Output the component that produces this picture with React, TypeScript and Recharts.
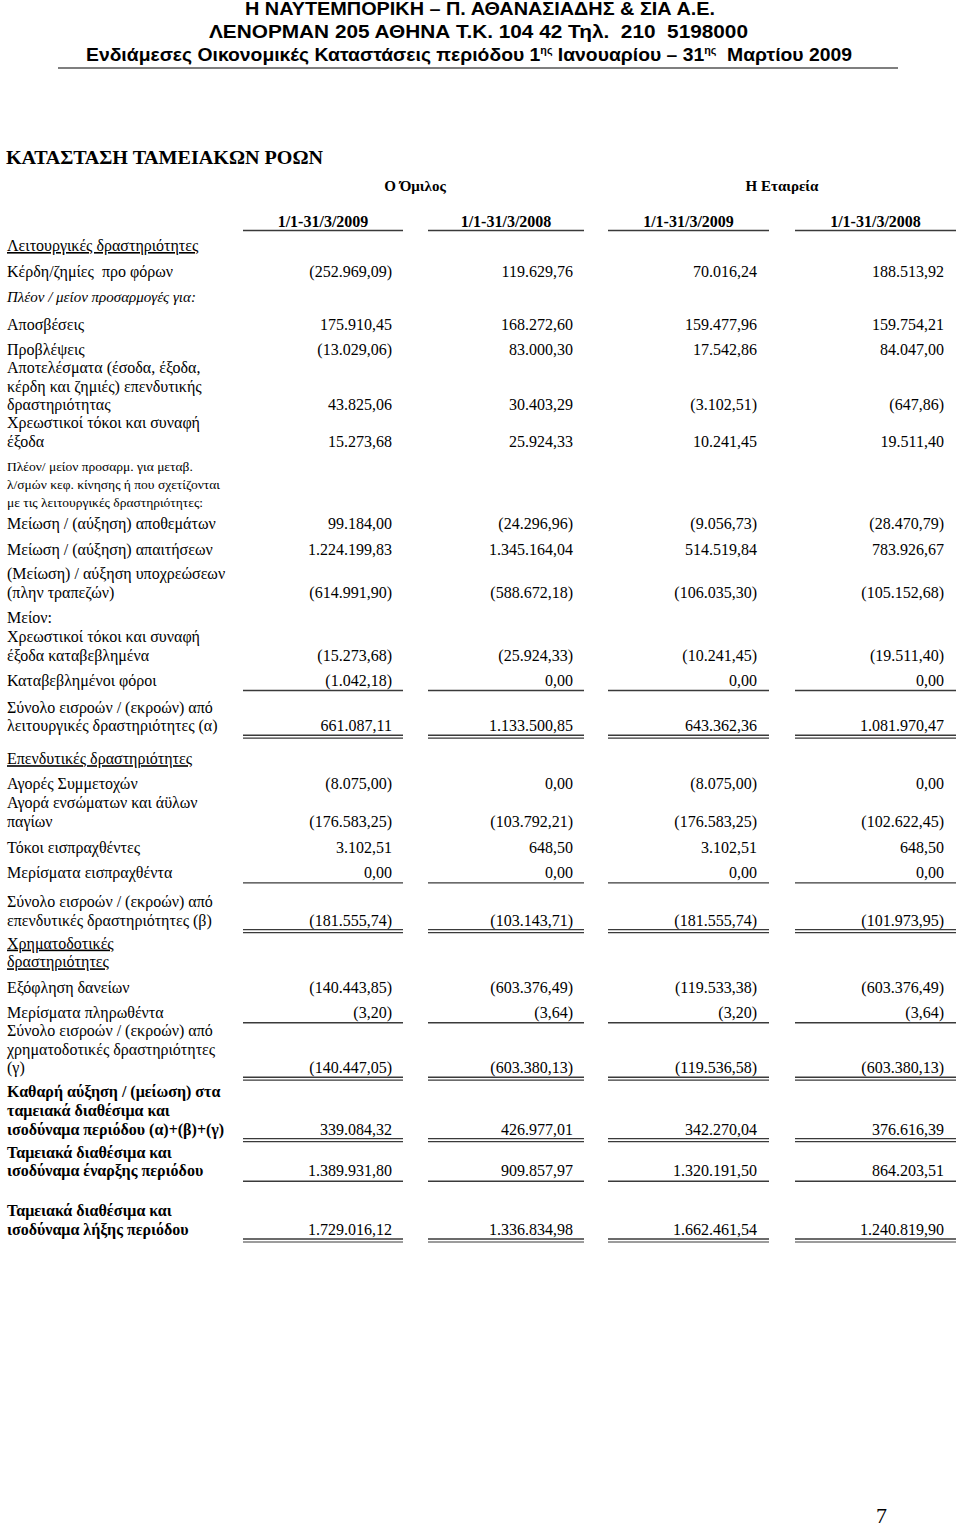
import React from "react";
import { ScatterChart, Scatter, XAxis, YAxis, Customized } from "recharts";

const PAGE_W = 960;
const PAGE_H = 1530;

const letterhead = [
	"Η ΝΑΥΤΕΜΠΟΡΙΚΗ – Π. ΑΘΑΝΑΣΙΑΔΗΣ & ΣΙΑ Α.Ε.",
	"ΛΕΝΟΡΜΑΝ 205 ΑΘΗΝΑ Τ.Κ. 104 42 Τηλ.  210  5198000",
];
// text pieces, the odd ones are superscripts
const periodLine = [
	"Ενδιάμεσες Οικονομικές Καταστάσεις περιόδου 1",
	"ης",
	" Ιανουαρίου – 31",
	"ης",
	"  Μαρτίου 2009",
];
const statementTitle = "ΚΑΤΑΣΤΑΣΗ ΤΑΜΕΙΑΚΩΝ ΡΟΩΝ";
const groupTitles = ["Ο Όμιλος", "Η Εταιρεία"];
const periodTitles = ["1/1-31/3/2009", "1/1-31/3/2008", "1/1-31/3/2009", "1/1-31/3/2008"];
const pageNumber = "7";

const rowLabels: string[][] = [
	["Λειτουργικές δραστηριότητες"],
	["Κέρδη/ζημίες  προ φόρων"],
	["Πλέον / μείον προσαρμογές για:"],
	["Αποσβέσεις"],
	["Προβλέψεις"],
	["Αποτελέσματα (έσοδα, έξοδα,", "κέρδη και ζημιές) επενδυτικής", "δραστηριότητας"],
	["Χρεωστικοί τόκοι και συναφή", "έξοδα"],
	["Πλέον/ μείον προσαρμ. για μεταβ.", "λ/σμών κεφ. κίνησης ή που σχετίζονται", "με τις λειτουργικές δραστηριότητες:"],
	["Μείωση / (αύξηση) αποθεμάτων"],
	["Μείωση / (αύξηση) απαιτήσεων"],
	["(Μείωση) / αύξηση υποχρεώσεων", "(πλην τραπεζών)"],
	["Μείον:"],
	["Χρεωστικοί τόκοι και συναφή", "έξοδα καταβεβλημένα"],
	["Καταβεβλημένοι φόροι"],
	["Σύνολο εισροών / (εκροών) από", "λειτουργικές δραστηριότητες (α)"],
	["Επενδυτικές δραστηριότητες"],
	["Αγορές Συμμετοχών"],
	["Αγορά ενσώματων και άϋλων", "παγίων"],
	["Τόκοι εισπραχθέντες"],
	["Μερίσματα εισπραχθέντα"],
	["Σύνολο εισροών / (εκροών) από", "επενδυτικές δραστηριότητες (β)"],
	["Χρηματοδοτικές", "δραστηριότητες"],
	["Εξόφληση δανείων"],
	["Μερίσματα πληρωθέντα"],
	["Σύνολο εισροών / (εκροών) από", "χρηματοδοτικές δραστηριότητες", "(γ)"],
	["Καθαρή αύξηση / (μείωση) στα", "ταμειακά διαθέσιμα και", "ισοδύναμα περιόδου (α)+(β)+(γ)"],
	["Ταμειακά διαθέσιμα και", "ισοδύναμα έναρξης περιόδου"],
	["Ταμειακά διαθέσιμα και", "ισοδύναμα λήξης περιόδου"],
];

type V = number | null;

const group2009: V[] = [
	null, -252969.09, null, 175910.45, -13029.06, 43825.06, 15273.68, null,
	99184.0, 1224199.83, -614991.9, null, -15273.68, -1042.18, 661087.11,
	null, -8075.0, -176583.25, 3102.51, 0, -181555.74,
	null, -140443.85, -3.2, -140447.05, 339084.32, 1389931.8, 1729016.12,
];
const group2008: V[] = [
	null, 119629.76, null, 168272.6, 83000.3, 30403.29, 25924.33, null,
	-24296.96, 1345164.04, -588672.18, null, -25924.33, 0, 1133500.85,
	null, 0, -103792.21, 648.5, 0, -103143.71,
	null, -603376.49, -3.64, -603380.13, 426977.01, 909857.97, 1336834.98,
];
const company2009: V[] = [
	null, 70016.24, null, 159477.96, 17542.86, -3102.51, 10241.45, null,
	-9056.73, 514519.84, -106035.3, null, -10241.45, 0, 643362.36,
	null, -8075.0, -176583.25, 3102.51, 0, -181555.74,
	null, -119533.38, -3.2, -119536.58, 342270.04, 1320191.5, 1662461.54,
];
const company2008: V[] = [
	null, 188513.92, null, 159754.21, 84047.0, -647.86, 19511.4, null,
	-28470.79, 783926.67, -105152.68, null, -19511.4, 0, 1081970.47,
	null, 0, -102622.45, 648.5, 0, -101973.95,
	null, -603376.49, -3.64, -603380.13, 376616.39, 864203.51, 1240819.9,
];
const columns = [group2009, group2008, company2009, company2008];

// ---- layout and styling (kept apart from the figures) ----
type Kind = "head" | "italic" | "small" | "plain" | "bold";
const rowKind: Kind[] = [
	"head", "plain", "italic", "plain", "plain", "plain", "plain", "small",
	"plain", "plain", "plain", "plain", "plain", "plain", "plain",
	"head", "plain", "plain", "plain", "plain", "plain",
	"head", "plain", "plain", "plain", "bold", "bold", "bold",
];
// 0 none, 1 single rule under the figures, 2 double rule
const rowRule = [
	0, 0, 0, 0, 0, 0, 0, 0, 0, 0, 0, 0, 0, 1, 2,
	0, 0, 0, 0, 1, 2, 0, 0, 1, 2, 2, 1, 2,
];
const rowGap = [
	0, 26, 25, 28, 25, 18, 18, 24, 22, 26, 24, 25, 19, 25, 27,
	33, 25, 19, 26, 25, 29, 23, 25.5, 25, 18, 24, 23, 40,
];
const FIRST_ROW = 246;
const LINE = 18.7;
const SMALL_LINE = 18;

const colSpan: [number, number][] = [
	[243, 403],
	[428, 584],
	[608, 769],
	[795, 956],
];
const colRight = [392, 573, 757, 944];

const SERIF = "'Liberation Serif', 'Times New Roman', serif";
const NARROW = "'Liberation Sans Narrow', 'Liberation Sans', Arial, sans-serif";
const RULE = "#3a3a3a";

function fmt(v: number): string {
	const abs = Math.abs(v).toFixed(2);
	const [int, dec] = abs.split(".");
	const body = `${int.replace(/\B(?=(\d{3})+(?!\d))/g, ".")},${dec}`;
	return v < 0 ? `(${body})` : body;
}

const tableData = (() => {
	let y = FIRST_ROW;
	return rowLabels.map((lines, i) => {
		if (i > 0) y += rowGap[i];
		const first = y;
		const step = rowKind[i] === "small" ? SMALL_LINE : LINE;
		y = first + (lines.length - 1) * step;
		return { x: 0, y: first, row: i };
	});
})();

function RowShape(props: any) {
	const { cy, payload } = props;
	if (cy == null || !payload) return null;
	const i: number = payload.row;
	const kind = rowKind[i];
	const lines = rowLabels[i];
	const step = kind === "small" ? SMALL_LINE : LINE;
	const last = cy + (lines.length - 1) * step;
	const size = kind === "small" ? 13.5 : kind === "italic" ? 15 : 16;
	return (
		<g>
			{lines.map((t, k) => (
				<text
					key={k}
					x={7}
					y={cy + k * step + 5}
					fontFamily={SERIF}
					fontSize={size}
					fontStyle={kind === "italic" ? "italic" : "normal"}
					fontWeight={kind === "bold" ? "bold" : "normal"}
					textDecoration={kind === "head" ? "underline" : undefined}
					fill="#000"
					style={{ whiteSpace: "pre" }}
				>
					{t}
				</text>
			))}
			{columns.map((col, j) =>
				col[i] == null ? null : (
					<text
						key={`v${j}`}
						x={colRight[j]}
						y={last + 5}
						textAnchor="end"
						fontFamily={SERIF}
						fontSize={16}
						fill="#000"
					>
						{fmt(col[i] as number)}
					</text>
				),
			)}
			{rowRule[i] > 0 &&
				colSpan.map(([a, b], j) =>
					rowRule[i] === 1 ? (
						<line key={`r${j}`} x1={a} x2={b} y1={last + 10} y2={last + 10} stroke={RULE} strokeWidth={1.4} />
					) : (
						<g key={`r${j}`}>
							<line x1={a} x2={b} y1={last + 9} y2={last + 9} stroke={RULE} strokeWidth={1.4} />
							<line x1={a} x2={b} y1={last + 12} y2={last + 12} stroke={RULE} strokeWidth={1.2} />
						</g>
					),
				)}
		</g>
	);
}

function PageHeader() {
	return (
		<g>
			<text x={245} y={15} fontFamily={NARROW} fontWeight="bold" fontSize={18} textLength={470} lengthAdjust="spacingAndGlyphs" style={{ whiteSpace: "pre" }}>
				{letterhead[0]}
			</text>
			<text x={209} y={38} fontFamily={NARROW} fontWeight="bold" fontSize={18} textLength={539} lengthAdjust="spacingAndGlyphs" style={{ whiteSpace: "pre" }}>
				{letterhead[1]}
			</text>
			<text x={86} y={61} fontFamily={NARROW} fontWeight="bold" fontSize={18} textLength={766} lengthAdjust="spacingAndGlyphs" style={{ whiteSpace: "pre" }}>
				{periodLine.map((p, k) =>
					k % 2 === 1 ? (
						<tspan key={k} fontSize={10} dy={-7}>
							{p}
						</tspan>
					) : (
						<tspan key={k} dy={k === 0 ? 0 : 7}>
							{p}
						</tspan>
					),
				)}
			</text>
			<line x1={58} x2={898} y1={68} y2={68} stroke="#555" strokeWidth={1.5} />
			<text x={6} y={164} fontFamily={SERIF} fontWeight="bold" fontSize={19} textLength={317} lengthAdjust="spacingAndGlyphs">
				{statementTitle}
			</text>
			<text x={415} y={191} textAnchor="middle" fontFamily={SERIF} fontWeight="bold" fontSize={15}>
				{groupTitles[0]}
			</text>
			<text x={782} y={191} textAnchor="middle" fontFamily={SERIF} fontWeight="bold" fontSize={15}>
				{groupTitles[1]}
			</text>
			{periodTitles.map((t, j) => (
				<g key={j}>
					<text x={(colSpan[j][0] + colSpan[j][1]) / 2} y={227} textAnchor="middle" fontFamily={SERIF} fontWeight="bold" fontSize={16}>
						{t}
					</text>
					<line x1={colSpan[j][0]} x2={colSpan[j][1]} y1={230.5} y2={230.5} stroke={RULE} strokeWidth={1.5} />
				</g>
			))}
			<text x={876} y={1523} fontFamily={SERIF} fontSize={22}>
				{pageNumber}
			</text>
		</g>
	);
}

export default function App() {
	return (
		<div style={{ position: "absolute", left: 0, top: 0, width: PAGE_W, height: PAGE_H, background: "#fff" }}>
			<ScatterChart width={PAGE_W} height={PAGE_H} margin={{ top: 0, right: 0, bottom: 0, left: 0 }}>
				<XAxis type="number" dataKey="x" domain={[0, PAGE_W]} hide />
				<YAxis type="number" dataKey="y" domain={[0, PAGE_H]} reversed hide />
				<Customized component={PageHeader} />
				<Scatter data={tableData} shape={RowShape} isAnimationActive={false} />
			</ScatterChart>
		</div>
	);
}
